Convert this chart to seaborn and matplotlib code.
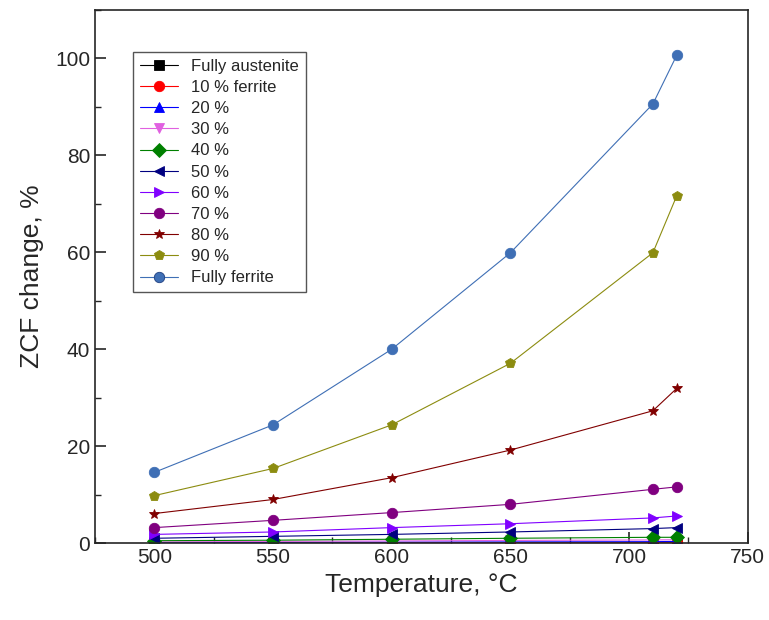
import pandas as pd
import numpy as np
import matplotlib
matplotlib.use("Agg")
import matplotlib.pyplot as plt
import seaborn as sns
from matplotlib.ticker import MultipleLocator

temps = [500, 550, 600, 650, 710, 720]
labels = ["Fully austenite", "10 % ferrite", "20 %", "30 %", "40 %", "50 %",
          "60 %", "70 %", "80 %", "90 %", "Fully ferrite"]

austenite = [0.0, 0.0, 0.0, 0.0, 0.0, 0.0]
f10 = [0.05, 0.07, 0.08, 0.1, 0.12, 0.13]
f20 = [0.1, 0.15, 0.2, 0.25, 0.3, 0.35]
f30 = [0.25, 0.35, 0.45, 0.55, 0.65, 0.7]
f40 = [0.5, 0.6, 0.8, 1.0, 1.2, 1.2]
f50 = [1.0, 1.4, 1.8, 2.3, 3.0, 3.2]
f60 = [1.8, 2.3, 3.2, 4.0, 5.2, 5.6]
f70 = [3.2, 4.7, 6.3, 8.0, 11.1, 11.6]
f80 = [6.1, 9.0, 13.5, 19.2, 27.3, 31.9]
f90 = [9.8, 15.4, 24.4, 37.1, 59.9, 71.6]
ferrite = [14.6, 24.4, 40.0, 59.9, 90.6, 100.6]
series = [austenite, f10, f20, f30, f40, f50, f60, f70, f80, f90, ferrite]

colors = ["#000000", "#ff0000", "#0000ff", "#e060e0", "#008000", "#000080",
          "#8000ff", "#800080", "#800000", "#8c8c10", "#3f6fb5"]
markers = ["s", "o", "^", "v", "D", "<", ">", "o", "*", "p", "o"]

rows = []
for lab, vals in zip(labels, series):
    for t, v in zip(temps, vals):
        rows.append({"Temperature": t, "ZCF": v, "Series": lab})
df = pd.DataFrame(rows)

sns.set_style("ticks")
plt.rcParams["font.family"] = ["Liberation Sans", "DejaVu Sans"]

fig = plt.figure(figsize=(7.69, 6.2), dpi=100)
ax = fig.add_axes([0.1235, 0.124, 0.849, 0.86])

sns.lineplot(data=df, x="Temperature", y="ZCF", hue="Series", style="Series",
             hue_order=labels, style_order=labels,
             palette=dict(zip(labels, colors)), markers=dict(zip(labels, markers)),
             dashes=False, markersize=7.5, linewidth=0.8, ax=ax,
             markeredgewidth=0.6)

for line in ax.lines:
    line.set_markeredgecolor(line.get_color())
    line.set_alpha(1)
# darker rim on the fully ferrite spheres
ax.lines[-1].set_markeredgecolor("#1f3f80")

ax.set_xlim(475, 750)
ax.set_ylim(0, 110)
ax.xaxis.set_major_locator(MultipleLocator(50))
ax.xaxis.set_minor_locator(MultipleLocator(25))
ax.yaxis.set_major_locator(MultipleLocator(20))
ax.yaxis.set_minor_locator(MultipleLocator(10))
ax.tick_params(which="major", direction="in", length=8, width=1.2, labelsize=15)
ax.tick_params(which="minor", direction="in", length=4, width=1)
for s in ax.spines.values():
    s.set_linewidth(1.2)

ax.set_xlabel("Temperature, \u00b0C", fontsize=19, labelpad=4)
ax.set_ylabel("ZCF change, %", fontsize=19, labelpad=8)

leg = ax.legend(loc="upper left", bbox_to_anchor=(0.058, 0.921), borderaxespad=0,
                fontsize=12, handlelength=2.3, labelspacing=0.37,
                fancybox=False, edgecolor="#555555", framealpha=1)
leg.get_frame().set_linewidth(1)

plt.savefig("out.png", dpi=100)
